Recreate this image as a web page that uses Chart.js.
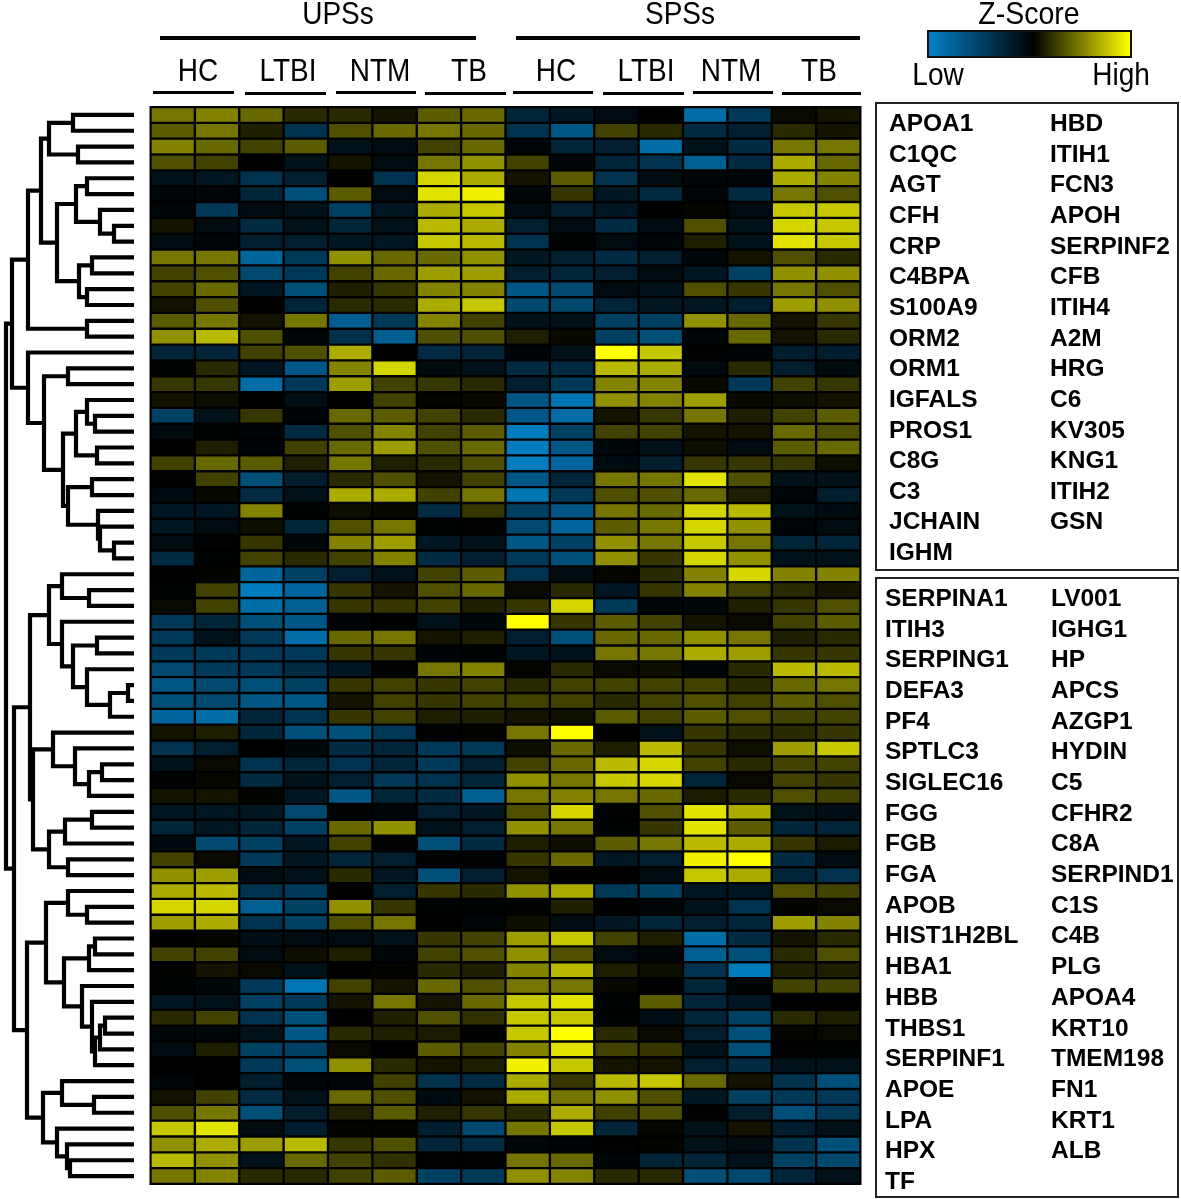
<!DOCTYPE html>
<html>
<head>
<meta charset="utf-8">
<title>Z-Score heatmap</title>
<script src="https://cdn.jsdelivr.net/npm/chart.js@4/dist/chart.umd.min.js"></script>
<style>
  html, body { margin: 0; padding: 0; background: #fff; }
  #page { position: relative; width: 1181px; height: 1199px; overflow: hidden; font-family: "Liberation Sans", Arial, sans-serif; color: #000; }
  #page canvas { position: absolute; top: 0; }
  .txt { position: absolute; white-space: nowrap; }
  .rule { position: absolute; background: #000; }
  .box { position: absolute; border: 2px solid #222; box-sizing: border-box; }
  #scaleBar { position: absolute; left: 927px; top: 30px; width: 205px; height: 28px; box-sizing: border-box; border: 2px solid #111;
    background: linear-gradient(to right, #0080c4 0%, #000 52%, #ffff00 100%); }
</style>
</head>
<body>
<div id="page">
  <canvas id="dendroChart"></canvas>
  <canvas id="heatChart"></canvas>
  <div id="scaleBar"></div>
</div>
<script>
// -----------------------------
// Data
// -----------------------------
const proteinsBoxA = ["APOA1","C1QC","AGT","CFH","CRP","C4BPA","S100A9","ORM2","ORM1","IGFALS","PROS1","C8G","C3","JCHAIN","IGHM",
  "HBD","ITIH1","FCN3","APOH","SERPINF2","CFB","ITIH4","A2M","HRG","C6","KV305","KNG1","ITIH2","GSN"];
const proteinsBoxB = ["SERPINA1","ITIH3","SERPING1","DEFA3","PF4","SPTLC3","SIGLEC16","FGG","FGB","FGA","APOB","HIST1H2BL","HBA1","HBB","THBS1","SERPINF1","APOE","LPA","HPX","TF",
  "LV001","IGHG1","HP","APCS","AZGP1","HYDIN","C5","CFHR2","C8A","SERPIND1","C1S","C4B","PLG","APOA4","KRT10","TMEM198","FN1","KRT1","ALB"];

const panelLabels = ["UPSs", "SPSs"];
const groupLabels = ["HC", "LTBI", "NTM", "TB", "HC", "LTBI", "NTM", "TB"];
const scaleTitle = "Z-Score";
const scaleLow = "Low";
const scaleHigh = "High";

// one row per protein, 16 sample columns, scale -10 (blue) .. 10 (yellow)
const zScores = [
  [5,5.5,4.5,2,2,1,4,4.5,-3,-2,-1,0,-8,-4.5,0.5,1],
  [4,5,1.5,-4,3.5,4.5,5,4.5,-4,-6.5,3,2,-3.5,-2.5,2,1],
  [5.5,4.5,3,4,-1.5,-1,3,4.5,-0.5,-3,-2.5,-8,-1.5,-3.5,5,5],
  [3.5,3,0,-1.5,1,-1,5,6,3,-0.5,-3,-4,-7,-3.5,7,4.5],
  [-1.5,-2,-4,-2.5,0,-4,8.5,7,1,4,-4,-1,-0.5,-0.5,7,5.5],
  [-0.5,-0.5,-3,-6,4,-1,9,9.5,-0.5,2.5,-2,-3.5,-0.5,-3.5,5,3.5],
  [-0.5,-4.5,-1,-1.5,-5,-2,7,8,-1,-2.5,-2,0,0.3,-1,8,8],
  [1,-1,-3.5,-1.5,-3,-1.5,7.5,7,-2.5,-1,-3.5,-1,3.5,-1.5,8.5,8],
  [-1,-0.5,-2.5,-2.5,-2,-2,8,7.5,-4,-0.3,-1,-0.5,1.5,-1.5,9,8],
  [5,5,-7.5,-4.5,6,4.5,4.5,6,-2,-2.5,-3.5,-2.5,-0.7,1,3.5,2],
  [3,3.5,-5.5,-4.5,3,4.5,6.5,6.5,-2.5,-3,-2.5,-1,-2,-5,6,6],
  [3,4.5,-2,-6,1.5,2.5,5.5,5.5,-6.5,-5.5,-1,-1.5,3.5,2.5,5,3.5],
  [1,3.5,0,-3,2,2,7,8,-5.5,-5.5,-3,-2,-2,-2.5,6.5,6],
  [4,5,1,5,-7,-4.5,5.5,3,-1.5,-1.5,-5,-5,6,4.5,1,2.5],
  [6,7.5,3.5,-0.5,-4,-7,3.5,3.5,1.5,0.5,-5,-6,-0.5,4.5,1,2],
  [-3,-3,3,3.5,7,0,-3.5,-3,-0.5,-1.5,10,8,-0.2,-0.5,-2.5,-2.5],
  [-0.3,2,-2,-6.5,5.5,8.5,-1,-1.5,-3.5,-3.5,7.5,7,-1,2,-2.5,-1],
  [2.5,2.5,-8,-4.5,6.5,3,2.5,2,-2.5,-4.5,5.5,5.5,0.5,-4.5,3,2.5],
  [1,0.7,0,-1.2,0,3,0.3,0.5,-6.5,-8.5,6,5.5,6.5,0.5,0.7,1],
  [-5,-1.5,2.5,-0.5,4.5,4,3,2,-6.5,-8,1,2.5,5,1.5,3,4],
  [-1,-0.3,-0.5,-3.5,3.5,5.5,3,4,-9,-5,3,3,1,1,4.5,3.5],
  [-0.1,1.5,-0.5,3,4.5,6.5,3.5,4.5,-9,-6.5,-0.7,-1.5,0.7,-1,4,4.5],
  [3,4.5,4,1.5,5,1.5,2,3.5,-9,-7.5,-1,-2.5,2.5,2.5,2.5,0.7],
  [-0.2,3,-6,-2.5,2,3.5,1,3,-6.5,-3,5,5,9,3.5,-1.5,-1.5],
  [-1,0.5,-3.5,-1.5,7,7,3,5,-8.5,-4.5,3.5,3.5,4.5,1.5,-0.5,-2.5],
  [-2,-2,5.5,-0.3,0.7,0.5,-3.5,2.5,-5,-6.5,5,4.5,8.5,7.5,-1.5,-1],
  [-2,-1,0.7,-3,3.5,5,-0.3,-0.2,-5.5,-7.5,4,5,8.5,6,-0.5,-1],
  [-1,-0.2,2.5,-0.5,5.5,6.5,-2,-1.5,-6.5,-5,6,5,8,5,-3,-3],
  [-3.5,-0.3,3,2,3,5.5,-3.5,-2.5,-4.5,-6,6,2.5,8.5,6,-1.5,-1.5],
  [0,0.2,-7.5,-5,-2.5,-1.5,3,4,-4,-1,0.3,2,5.5,8.5,5.5,5.5],
  [-0.3,3,-9,-7.5,2.5,1,3.5,4.5,0.5,2,-2,2.5,5.5,3,2,1],
  [0.5,3,-8,-7,2.5,2.5,3,1.5,2.5,8.5,-4.5,-0.5,-0.7,1.5,2.5,3.5],
  [-4.5,-3,-6,-6.5,-0.4,-0.1,-1.5,-0.7,10,2.5,4,3,1,0.5,3,4],
  [-4.5,-1.5,-4.5,-8,4.5,5,1,1.5,-2.5,-6,4.5,4.5,6,5,1.5,2],
  [-4.5,-4.5,-4.5,-4.5,2.5,2.5,-0.4,-0.3,-2,-1.5,5,5,7,6.5,2.5,2.5],
  [-5.5,-4.5,-4.5,-3.5,-2,-0.2,5,5.5,0.3,2,0.5,0.7,-0.5,2,7.5,7.5],
  [-6.5,-5.5,-6,-5,2.5,3,2.5,3,2,3,3,3,3,2,4.5,5],
  [-6,-5.5,-6.5,-6.5,1,3,2.5,3,3,3,2,3,3.5,3,4,3.5],
  [-7.5,-8,-3,-4,2.5,3,1.5,1.5,1,0.8,4,3,4,3.5,3,3],
  [1,1.5,-3,-6,-6,-4.5,-0.2,0.2,5,10,0,-1.5,2.5,2,2,2.5],
  [-4,-2.5,0,-0.7,-3.5,-3,-4.5,-4.5,0.7,4.5,1.5,7.5,2.5,0.8,6.5,8],
  [-1.5,0.5,-4,-3,-4,-3,-4.5,-2.5,3,4.5,7.5,8.5,3,2,3,3],
  [-0.2,0.4,-3.5,-1.5,-2.5,-4.5,-4,-3,6,5,8,8.5,-3,0.5,3,2.5],
  [1,1,0.2,-2,-6.5,-3,-3.5,-7,5,5.5,5,4.5,1.3,2,3.5,3],
  [-2,-2,-2,-5.5,-0.2,-0.5,-2.5,-2,3.5,8.5,-0.2,3.5,9,7,-1.5,-1.2],
  [-3,-2,-3,-5,4.5,6,-1.5,-2.5,6,5,-0.3,2.5,9,4,-3,-3],
  [-0.8,-5.5,-5,-2,3,-0.2,-6,-3.5,1.5,0.7,4,5,7.5,7,2.5,1.3],
  [3,0.5,-4.5,-2,-3,-2.5,-0.2,-0.2,2.5,4.5,-2,-2.5,9.5,10,-3.5,-1],
  [6,6.5,-1,-1.5,2,-2,-6,-2.5,1,0,0,-1,8,7,-3,-4],
  [7,7.5,-4,-4.5,0,-2.5,2.5,2,6,7,-4.5,-5,-2,-2,3.5,3],
  [8.5,8.5,-7,-5,6,2.5,-0.3,-0.3,-0.2,1.5,-0.1,-0.5,-1.5,-4,0.2,0.5],
  [6.5,7,-4,-5,3.5,5,0,-0.5,0.7,-1,-2,-3,-2.5,-3,6.5,5.5],
  [0,0.3,-1.2,-1,-1,-1.5,2.5,3,6.5,8,3,1.5,-8,-3.5,1,2],
  [3,3,-1,0.7,1.5,-0.5,3,3.5,6,3.5,-1,-0.5,-7,-6,2,3.5],
  [0.2,1,0.5,-1.5,0,0.2,2,1.5,5.5,7.5,1.5,0.7,-4,-9,1.5,1.5],
  [-0.3,-0.7,-4.5,-8.5,3,1,4.5,3.5,5,5,0.4,0,-3,-0.3,3,3],
  [-2,-1.5,-5,-4.5,1,5,1,4.5,8,9,-0.3,4,-3,-2,0,0],
  [2,3,-4,-6,0,1.5,3.5,2.2,8,8,-0.3,-1.2,-3,-5,2,1.5],
  [-0.5,-0.5,-1.5,-6.5,2,1.5,1.3,0,8,10,2,0.5,-2.5,-6,0.3,0.5],
  [-1,1.5,-5,-5,0.5,0,4,3,5.5,9,3,2.5,-1.5,-6,-0.2,-0.3],
  [-0.1,-0.1,-4.5,-6,6,2,1,1.5,9.5,8,1,1,-2.5,-3.5,-1.5,-1.5],
  [-0.5,0,-2.5,-0.5,-0.5,3,-4,-3.5,7,2.5,7.5,8,4.5,1,-4,-6],
  [1,3,-3.5,-1.5,4.5,3.5,-1,1,7,5,6,3.5,-2,-5,-4.5,-4.5],
  [3.5,5,-6,-2.5,1.5,4,1.5,2.5,2,7,3,3.5,-0.2,-2.5,-6,-4.5],
  [8,9,-1,-2.5,0.2,0.2,-2.5,-5.5,5,8,-3,0.4,-1.5,1,-2.5,-1.5],
  [6,7,6.5,7.5,2.5,3.5,-3,-3.5,-0.7,-0.5,-0.2,0.2,-1.5,-1,-4,-6],
  [7.5,6,-1.5,4.5,3,2.3,-0.2,-0.2,5,4.5,-0.5,-3,-3,-1.5,-5,-5.5],
  [5,5.5,2,2,3,4,-5,-4.5,6,5.5,2,2,-6,-5.5,-3,-1.5]
];

// dendrogram: [linkage height, left child, right child], a leaf is "o"
const o = "o";
const rowTree = [127,
  [121,
    [105,
      [92,
        [84, [60, o, o], [55, o, o]],
        [76,
          [57, [46, o, o], [33, o, [19, o, o]]],
          [54, [41, o, o], [46, o, o]]]],
      [46, o, o]],
    [105, o,
      [89,
        [65, o, o],
        [70,
          [57, [46, o, [38, o, o]], [36, o, o]],
          [65, [41, o, o], [35, o, [33, o, [19, o, o]]]]]]]],
  [119,
    [103,
      [84,
        [71, o, [44, o, o]],
        [71, o, [60, [36, o, o], [46, o, [23, [5, o, o], o]]]]],
      [100,
        [80, o, [58, o, [44, [31, o, o], o]]],
        [84, [68, [41, o, o], o], [65, o, o]]]],
    [106,
      [87,
        [65, o, [46, o, o]],
        [69,
          [44, [38, o, o], o],
          [51, o, [41, o, [38, [33, [28, o, o], o], o]]]]],
      [90,
        [71, o, [39, o, o]],
        [76, o, [66, o, [63, o, o]]]]]]];

// -----------------------------
// Heatmap
// -----------------------------
const rowLabels = proteinsBoxA.concat(proteinsBoxB);
const columnCount = zScores[0].length;

function zColor(z) {
    const t = Math.pow(Math.abs(z) / 10, 1.12);
    if (z >= 0) return `rgb(${Math.round(255 * t)},${Math.round(255 * t)},0)`;
    return `rgb(0,${Math.round(140 * t)},${Math.round(215 * t)})`;
}

const heatDatasets = [];
for (let c = 0; c < columnCount; c++) {
    heatDatasets.push({
        label: "Sample " + (c + 1),
        data: rowLabels.map(() => [c, c + 1]),
        backgroundColor: zScores.map(row => zColor(row[c])),
        borderColor: "#000",
        borderWidth: 1.5,
        borderSkipped: false,
        barPercentage: 1,
        categoryPercentage: 1,
        grouped: false
    });
}

const blackBackdrop = {
    id: "blackBackdrop",
    beforeDatasetsDraw(chart) {
        const a = chart.chartArea;
        chart.ctx.fillStyle = "#000";
        chart.ctx.fillRect(a.left - 1, a.top - 1, a.width + 2, a.height + 2);
    }
};

const heatCanvas = document.getElementById("heatChart");
heatCanvas.width = 1181;
heatCanvas.height = 1199;
heatCanvas.style.left = "0px";

new Chart(heatCanvas, {
    type: "bar",
    data: { labels: rowLabels, datasets: heatDatasets },
    options: {
        indexAxis: "y",
        responsive: false,
        animation: false,
        layout: { padding: { left: 150.5, right: 320.5, top: 107, bottom: 15 } },
        plugins: { legend: { display: false }, tooltip: { enabled: false } },
        scales: {
            x: { type: "linear", min: 0, max: columnCount, display: false },
            y: { type: "category", display: false }
        }
    },
    plugins: [blackBackdrop]
});

// -----------------------------
// Dendrogram
// -----------------------------
const dendroPoints = [];
let nextLeaf = 0;

function walkTree(node) {
    if (node === o) {
        nextLeaf++;
        return { h: 0, y: nextLeaf - 0.5 };
    }
    const a = walkTree(node[1]);
    const b = walkTree(node[2]);
    dendroPoints.push({ x: a.h, y: a.y }, { x: node[0], y: a.y }, { x: node[0], y: b.y }, { x: b.h, y: b.y }, { x: NaN, y: NaN });
    return { h: node[0], y: (a.y + b.y) / 2 };
}
walkTree(rowTree);

const dendroCanvas = document.getElementById("dendroChart");
dendroCanvas.width = 134;
dendroCanvas.height = 1199;
dendroCanvas.style.left = "0px";

new Chart(dendroCanvas, {
    type: "scatter",
    data: {
        datasets: [{
            data: dendroPoints,
            showLine: true,
            spanGaps: false,
            borderColor: "#000",
            borderWidth: 4.2,
            borderCapStyle: "square",
            borderJoinStyle: "miter",
            pointRadius: 0,
            clip: false
        }]
    },
    options: {
        responsive: false,
        animation: false,
        layout: { padding: { left: 0, right: 1, top: 107, bottom: 15 } },
        plugins: { legend: { display: false }, tooltip: { enabled: false } },
        scales: {
            x: { type: "linear", min: 0, max: 133, reverse: true, display: false },
            y: { type: "linear", min: 0, max: rowLabels.length, reverse: true, display: false }
        }
    }
});

// -----------------------------
// Text and rules around the chart
// -----------------------------
const page = document.getElementById("page");

function addText(text, x, yMid, size, weight, align) {
    const el = document.createElement("div");
    el.className = "txt";
    el.textContent = text;
    el.style.fontSize = size + "px";
    el.style.fontWeight = weight;
    el.style.lineHeight = "40px";
    el.style.top = (yMid - 20) + "px";
    el.style.left = x + "px";
    if (align === "center") el.style.transform = "translateX(-50%) scaleY(1.1)";
    page.appendChild(el);
}

function addRule(x1, x2, y, thick) {
    const el = document.createElement("div");
    el.className = "rule";
    el.style.left = x1 + "px";
    el.style.width = (x2 - x1) + "px";
    el.style.top = y + "px";
    el.style.height = thick + "px";
    page.appendChild(el);
}

function addBox(x, y, w, h) {
    const el = document.createElement("div");
    el.className = "box";
    el.style.cssText = `left:${x}px;top:${y}px;width:${w}px;height:${h}px`;
    page.appendChild(el);
}

const panelCenters = [338, 680];
panelLabels.forEach((t, i) => addText(t, panelCenters[i], 14, 28, "normal", "center"));
addRule(160, 476, 36, 4);
addRule(516, 860, 36, 4);

const groupCenters = [198, 288, 380, 469, 556, 646, 731, 819];
const groupRules = [[153, 234, 91], [245, 326, 92], [336, 416, 91], [425, 506, 92], [513, 593, 91], [603, 684, 92], [693, 773, 91], [782, 861, 92]];
groupLabels.forEach((t, i) => {
    addText(t, groupCenters[i], 71, 28, "normal", "center");
    addRule(groupRules[i][0], groupRules[i][1], groupRules[i][2], 3);
});

addText(scaleTitle, 1029, 13, 28.5, "normal", "center");
addText(scaleLow, 938, 75, 28, "normal", "center");
addText(scaleHigh, 1121, 75, 28, "normal", "center");

addBox(875, 102, 304, 469);
addBox(875, 577, 304, 621);

proteinsBoxA.forEach((t, i) => {
    const inFirst = i < 15;
    addText(t, inFirst ? 889 : 1050, 123 + 30.65 * (inFirst ? i : i - 15), 24.5, "bold");
});
proteinsBoxB.forEach((t, i) => {
    const inFirst = i < 20;
    addText(t, inFirst ? 885 : 1051, 598 + 30.68 * (inFirst ? i : i - 20), 24.5, "bold");
});
</script>
</body>
</html>
